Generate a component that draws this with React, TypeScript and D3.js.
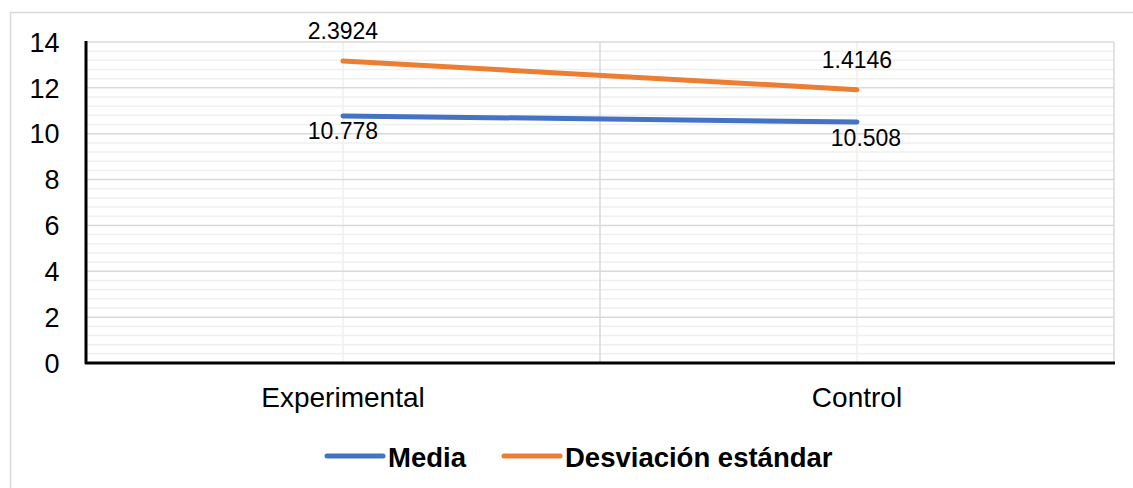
import React from "react";
import * as d3 from "d3";

const categories = ["Experimental", "Control"];
const mediaValues = [10.778, 10.508];
const desvValues = [2.3924, 1.4146];
const yTicks = [0, 2, 4, 6, 8, 10, 12, 14];
const seriesNames = ["Media", "Desviación estándar"];
const seriesColors = ["#4472C4", "#ED7D31"];
const mediaLabelShift = [0, 9];

const W = 1133;
const H = 488;
const FONT = "Arial, 'Liberation Sans', Helvetica, sans-serif";

export default function App() {
  const x = d3.scaleBand<string>().domain(categories).range([86, 1114]).padding(0);
  const y = d3.scaleLinear().domain([0, 14]).range([363, 42]);
  const cx = (c: string) => (x(c) as number) + x.bandwidth() / 2;

  const stacked = categories.map((c, i) => ({
    c,
    media: mediaValues[i],
    desv: desvValues[i],
    top: mediaValues[i] + desvValues[i],
    shift: mediaLabelShift[i],
  }));

  const line = d3
    .line<{ c: string; v: number }>()
    .x((d) => cx(d.c))
    .y((d) => y(d.v));

  const mediaPath = line(stacked.map((d) => ({ c: d.c, v: d.media }))) || "";
  const topPath = line(stacked.map((d) => ({ c: d.c, v: d.top }))) || "";

  const minor = d3.range(0, 14.001, 0.4).filter((v) => Math.abs(v / 2 - Math.round(v / 2)) > 1e-6);
  const bounds = [86, 600, 1114];

  const legendItems = [
    { name: seriesNames[0], color: seriesColors[0], x0: 327 },
    { name: seriesNames[1], color: seriesColors[1], x0: 504 },
  ];

  return (
    <svg width={W} height={H} style={{ position: "absolute", left: 0, top: 0, background: "#fff" }}>
      <rect x={10.5} y={12.5} width={1300} height={600} fill="#fff" stroke="#d9d9d9" strokeWidth={1.5} />
      {minor.map((v) => (
        <line key={"mi" + v} x1={86} x2={1114} y1={y(v)} y2={y(v)} stroke="#efefef" strokeWidth={1.5} />
      ))}
      {categories.map((c) => (
        <line key={"vc" + c} x1={cx(c)} x2={cx(c)} y1={42} y2={363} stroke="#efefef" strokeWidth={1.5} />
      ))}
      {yTicks.map((v) => (
        <line key={"ma" + v} x1={86} x2={1114} y1={y(v)} y2={y(v)} stroke="#d9d9d9" strokeWidth={1.5} />
      ))}
      {bounds.map((b) => (
        <line key={"vb" + b} x1={b} x2={b} y1={42} y2={363} stroke="#d9d9d9" strokeWidth={1.5} />
      ))}
      <line x1={86} x2={86} y1={41} y2={364} stroke="#000" strokeWidth={3} />
      <line x1={85} x2={1115} y1={363} y2={363} stroke="#000" strokeWidth={3} />
      {yTicks.map((v) => (
        <text key={"yt" + v} x={59.5} y={y(v)} dy="0.36em" textAnchor="end" fontFamily={FONT} fontSize={27} fill="#000">
          {v}
        </text>
      ))}
      {categories.map((c) => (
        <text key={"xl" + c} x={cx(c)} y={407} textAnchor="middle" fontFamily={FONT} fontSize={28} fill="#000">
          {c}
        </text>
      ))}
      <path d={mediaPath} fill="none" stroke={seriesColors[0]} strokeWidth={5} strokeLinecap="round" />
      <path d={topPath} fill="none" stroke={seriesColors[1]} strokeWidth={5} strokeLinecap="round" />
      {stacked.map((d) => (
        <g key={"dl" + d.c}>
          <text x={cx(d.c)} y={y(d.top) - 22} textAnchor="middle" fontFamily={FONT} fontSize={23} fill="#000">
            {String(d.desv)}
          </text>
          <text x={cx(d.c) + d.shift} y={y(d.media) + 23.5} textAnchor="middle" fontFamily={FONT} fontSize={23} fill="#000">
            {String(d.media)}
          </text>
        </g>
      ))}
      {legendItems.map((it) => (
        <g key={"lg" + it.name}>
          <line x1={it.x0} x2={it.x0 + 56} y1={456} y2={456} stroke={it.color} strokeWidth={5} strokeLinecap="round" />
          <text x={it.x0 + 61} y={467} fontFamily={FONT} fontSize={27.5} fontWeight="bold" fill="#000">
            {it.name}
          </text>
        </g>
      ))}
    </svg>
  );
}
